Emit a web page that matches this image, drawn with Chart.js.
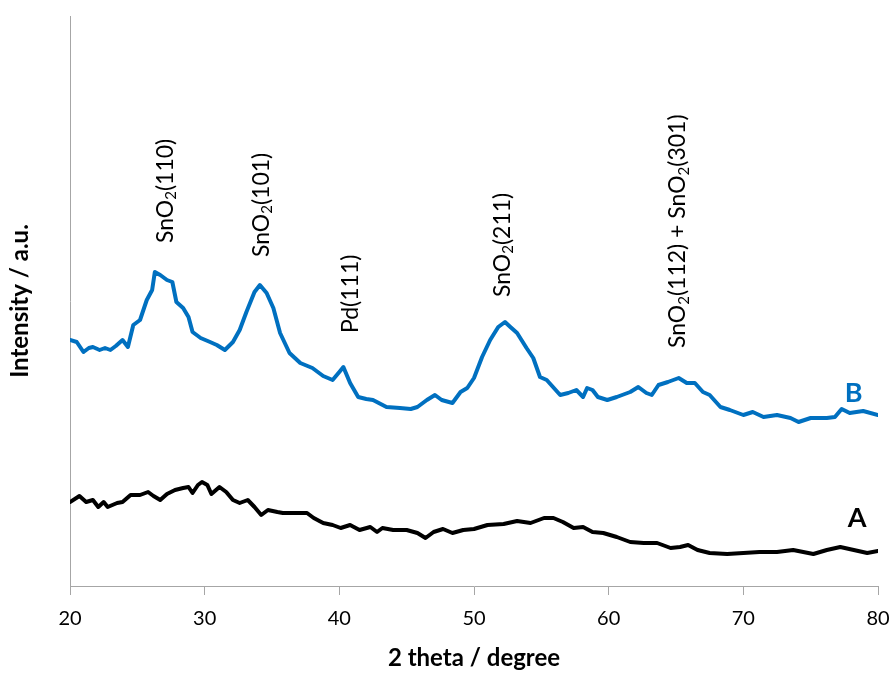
<!DOCTYPE html>
<html>
<head>
<meta charset="utf-8">
<script src="https://cdn.jsdelivr.net/npm/chart.js@4"></script>
<style>
  html, body { margin: 0; padding: 0; background: #fff; }
  #wrap { width: 892px; height: 673px; position: relative; }
</style>
</head>
<body>
<div id="wrap"><canvas id="xrd"></canvas></div>
<script>
// XRD patterns, values (intensity in a.u.)
const xTicks = [20, 30, 40, 50, 60, 70, 80];

const angleB = [20.0, 20.5, 21.0, 21.4, 21.7, 22.2, 22.6, 23.0, 23.4, 23.9, 24.3, 24.7, 25.2, 25.7, 26.1, 26.3, 26.7, 27.2, 27.6, 27.9,
  28.4, 28.8, 29.1, 29.7, 30.4, 30.9, 31.5, 32.1, 32.6, 33.1, 33.7, 34.1, 34.6, 35.1, 35.6, 36.3, 37.1, 38.0, 38.8, 39.5,
  40.0, 40.3, 40.8, 41.4, 42.0, 42.5, 43.5, 44.5, 45.3, 45.8, 46.5, 47.1, 47.6, 48.4, 49.0, 49.5, 50.0, 50.6, 51.2, 51.8,
  52.3, 52.7, 53.2, 53.9, 54.4, 54.9, 55.4, 56.4, 57.0, 57.6, 58.1, 58.4, 58.8, 59.2, 59.9, 60.6, 61.6, 62.2, 62.8, 63.2,
  63.7, 64.4, 65.2, 65.8, 66.4, 67.0, 67.5, 68.3, 69.0, 70.0, 70.7, 71.5, 72.5, 73.5, 74.1, 75.0, 76.2, 76.8, 77.3, 77.9,
  78.9, 80.0];
const intensityB = [246, 244, 234, 238, 239, 236, 238, 236, 240, 246, 239, 261, 266, 286, 296, 314, 311, 306, 304, 284,
  278, 269, 254, 248, 244, 241, 236, 244, 256, 274, 294, 301, 293, 278, 253, 233, 223, 218, 210, 206,
  214, 219, 203, 189, 187, 186, 179, 178, 177, 179, 186, 191, 186, 183, 194, 198, 208, 229, 246, 259,
  264, 259, 253, 238, 228, 209, 206, 191, 193, 196, 189, 198, 196, 189, 186, 189, 194, 199, 193, 191,
  201, 204, 208, 203, 203, 194, 191, 179, 176, 171, 174, 169, 171, 168, 164, 168, 168, 169, 177, 173,
  175, 171];

const angleA = [20.0, 20.7, 21.2, 21.7, 22.1, 22.5, 22.8, 23.5, 23.9, 24.5, 25.2, 25.8, 26.2, 26.7, 27.2, 27.8, 28.4, 28.8, 29.1, 29.5,
  29.8, 30.2, 30.5, 31.1, 31.6, 32.1, 32.6, 33.2, 33.7, 34.2, 34.7, 35.4, 35.8, 36.6, 37.6, 38.1, 38.8, 39.5, 40.1, 40.8,
  41.5, 42.3, 42.8, 43.2, 44.0, 45.0, 45.8, 46.4, 47.0, 47.7, 48.4, 49.2, 50.0, 51.0, 52.2, 53.2, 54.2, 55.2, 55.9, 56.6,
  57.4, 58.1, 58.8, 59.6, 60.6, 61.6, 62.6, 63.6, 64.6, 65.3, 65.9, 66.6, 67.5, 68.8, 70.0, 71.2, 72.5, 73.7, 75.2, 76.2,
  77.2, 78.2, 79.2, 80.0];
const intensityA = [84, 90, 84, 86, 79, 84, 79, 83, 84, 91, 91, 94, 90, 86, 92, 96, 98, 99, 93, 101,
  104, 101, 92, 99, 94, 86, 83, 86, 79, 71, 76, 74, 73, 73, 73, 68, 63, 61, 58, 61,
  56, 59, 54, 58, 56, 56, 53, 48, 54, 57, 53, 56, 57, 61, 62, 65, 63, 68, 68, 64,
  58, 59, 54, 53, 49, 44, 43, 43, 38, 39, 41, 36, 33, 32, 33, 34, 34, 36, 32, 36,
  39, 36, 33, 35];

// reflection labels: text parts (sub = subscript), angle and intensity of the label's lower end
const peakLabels = [
  { parts: [['SnO'], ['2', 1], ['(110)']], x: 27.1, y: 343 },
  { parts: [['SnO'], ['2', 1], ['(101)']], x: 34.2, y: 329 },
  { parts: [['Pd(111)']], x: 40.8, y: 253 },
  { parts: [['SnO'], ['2', 1], ['(211)']], x: 52.1, y: 289 },
  { parts: [['SnO'], ['2', 1], ['(112) + SnO'], ['2', 1], ['(301)']], x: 65.15, y: 238 }
];
const seriesTags = [
  { text: 'B', x: 78.2, y: 193, color: '#0070c0' },
  { text: 'A', x: 78.45, y: 68, color: '#000000' }
];

const FONT = 'Lato, "Liberation Sans", sans-serif';
const toPts = (xs, ys) => xs.map((x, i) => ({ x, y: ys[i] }));

const labelPlugin = {
  id: 'peakLabels',
  afterDatasetsDraw(chart) {
    const { ctx, scales: { x, y } } = chart;
    ctx.save();
    peakLabels.forEach(l => {
      ctx.save();
      ctx.translate(x.getPixelForValue(l.x), y.getPixelForValue(l.y));
      ctx.rotate(-Math.PI / 2);
      ctx.fillStyle = '#000';
      ctx.textBaseline = 'middle';
      ctx.textAlign = 'left';
      let pos = 0;
      l.parts.forEach(([t, sub]) => {
        ctx.font = (sub ? '15px ' : '23px ') + FONT;
        ctx.fillText(t, pos, sub ? 6 : 0);
        pos += ctx.measureText(t).width;
      });
      ctx.restore();
    });
    seriesTags.forEach(s => {
      ctx.font = 'bold 27px ' + FONT;
      ctx.fillStyle = s.color;
      ctx.textAlign = 'center';
      ctx.textBaseline = 'middle';
      ctx.fillText(s.text, x.getPixelForValue(s.x), y.getPixelForValue(s.y));
    });
    ctx.restore();
  }
};

new Chart(document.getElementById('xrd'), {
  type: 'line',
  data: {
    datasets: [
      { label: 'B', data: toPts(angleB, intensityB), borderColor: '#0070c0', borderWidth: 4 },
      { label: 'A', data: toPts(angleA, intensityA), borderColor: '#000000', borderWidth: 4 }
    ]
  },
  options: {
    responsive: true,
    maintainAspectRatio: false,
    animation: false,
    parsing: false,
    elements: { point: { radius: 0 }, line: { tension: 0, borderJoinStyle: 'round', borderCapStyle: 'round' } },
    layout: { padding: { top: 16, right: 14, left: 0, bottom: 0 } },
    plugins: { legend: { display: false }, tooltip: { enabled: false } },
    scales: {
      x: {
        type: 'linear', min: 20, max: 80,
        afterBuildTicks: s => { s.ticks = xTicks.map(v => ({ value: v })); },
        afterFit: s => { s.height = 87; s.paddingLeft = 0; s.paddingRight = 0; },
        border: { display: true, color: '#a6a6a6', width: 1 },
        grid: { display: true, drawOnChartArea: false, drawTicks: true, tickLength: 9, color: '#a6a6a6' },
        ticks: { font: { family: FONT, size: 20 }, color: '#000', padding: 12, maxRotation: 0 },
        title: { display: true, text: '2 theta / degree', font: { family: FONT, size: 24, weight: 'bold' }, color: '#000', padding: { top: 0, bottom: 0 } }
      },
      y: {
        min: 0, max: 570,
        afterFit: s => { s.width = 70; },
        border: { display: true, color: '#a6a6a6', width: 1 },
        grid: { display: false },
        ticks: { display: false },
        title: { display: true, text: 'Intensity / a.u.', font: { family: FONT, size: 24, weight: 'bold' }, color: '#000', padding: { top: 6, bottom: 0 } }
      }
    }
  },
  plugins: [labelPlugin]
});
</script>
</body>
</html>
